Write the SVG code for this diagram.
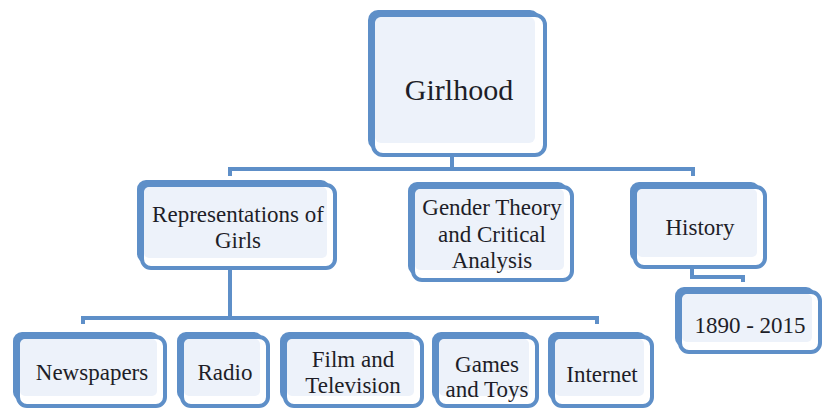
<svg xmlns="http://www.w3.org/2000/svg" width="822" height="410" viewBox="0 0 822 410">
<style>
.sh{fill:#5E8FC8}
.bx{fill:#fff;stroke:#5E8FC8;stroke-width:4}
.in{fill:#EDF2FA}
.ln{fill:none;stroke:#5E8FC8;stroke-width:4;stroke-linejoin:miter}
text{font-family:"Liberation Serif","Times New Roman",serif;font-size:23px;fill:#1E1E28;text-anchor:middle}
</style>
<rect width="822" height="410" fill="#fff"/>
<g id="connectors">
<path class="ln" d="M452,155 V170"/>
<path class="ln" d="M230,176 V169 H693 V176"/>
<path class="ln" d="M230,268 V318"/>
<path class="ln" d="M83,324 V318 H597 V324"/>
<path class="ln" d="M692,267 V277 H743 V282"/>
</g>
<g id="girlhood">
<rect class="sh" x="368" y="10" width="172" height="140" rx="10"/>
<rect class="bx" x="373" y="15" width="172" height="140" rx="10"/>
<rect class="in" x="375" y="17" width="160" height="126" rx="6"/>
<text x="459" y="100" style="font-size:30px">Girlhood</text>
</g>
<g id="representations">
<rect class="sh" x="137" y="180" width="193" height="83" rx="9"/>
<rect class="bx" x="142" y="185" width="193" height="83" rx="9"/>
<rect class="in" x="144" y="187" width="183" height="71" rx="5"/>
<text x="238" y="222">Representations of</text>
<text x="238" y="248">Girls</text>
</g>
<g id="gender">
<rect class="sh" x="408" y="182" width="159" height="93" rx="9"/>
<rect class="bx" x="413" y="187" width="159" height="93" rx="9"/>
<rect class="in" x="415" y="189" width="149" height="81" rx="5"/>
<text x="492" y="215">Gender Theory</text>
<text x="492" y="242">and Critical</text>
<text x="492" y="268">Analysis</text>
</g>
<g id="history">
<rect class="sh" x="630" y="182" width="130" height="80" rx="9"/>
<rect class="bx" x="635" y="187" width="130" height="80" rx="9"/>
<rect class="in" x="637" y="189" width="120" height="68" rx="5"/>
<text x="700" y="235">History</text>
</g>
<g id="years">
<rect class="sh" x="675" y="287" width="140" height="60" rx="9"/>
<rect class="bx" x="680" y="292" width="140" height="60" rx="9"/>
<rect class="in" x="682" y="294" width="130" height="48" rx="5"/>
<text x="750" y="333">1890 - 2015</text>
</g>
<g id="newspapers">
<rect class="sh" x="13" y="332" width="147" height="69" rx="9"/>
<rect class="bx" x="18" y="337" width="147" height="69" rx="9"/>
<rect class="in" x="20" y="339" width="137" height="57" rx="5"/>
<text x="92" y="380">Newspapers</text>
</g>
<g id="radio">
<rect class="sh" x="177" y="332" width="86" height="69" rx="9"/>
<rect class="bx" x="182" y="337" width="86" height="69" rx="9"/>
<rect class="in" x="184" y="339" width="76" height="57" rx="5"/>
<text x="225" y="380">Radio</text>
</g>
<g id="film">
<rect class="sh" x="280" y="332" width="137" height="69" rx="9"/>
<rect class="bx" x="285" y="337" width="137" height="69" rx="9"/>
<rect class="in" x="287" y="339" width="127" height="57" rx="5"/>
<text x="353" y="367">Film and</text>
<text x="353" y="393">Television</text>
</g>
<g id="games">
<rect class="sh" x="432" y="332" width="100" height="69" rx="9"/>
<rect class="bx" x="437" y="337" width="100" height="69" rx="9"/>
<rect class="in" x="439" y="339" width="90" height="57" rx="5"/>
<text x="487" y="372">Games</text>
<text x="487" y="397">and Toys</text>
</g>
<g id="internet">
<rect class="sh" x="548" y="332" width="99" height="69" rx="9"/>
<rect class="bx" x="553" y="337" width="99" height="69" rx="9"/>
<rect class="in" x="555" y="339" width="89" height="57" rx="5"/>
<text x="602" y="382">Internet</text>
</g>
</svg>
